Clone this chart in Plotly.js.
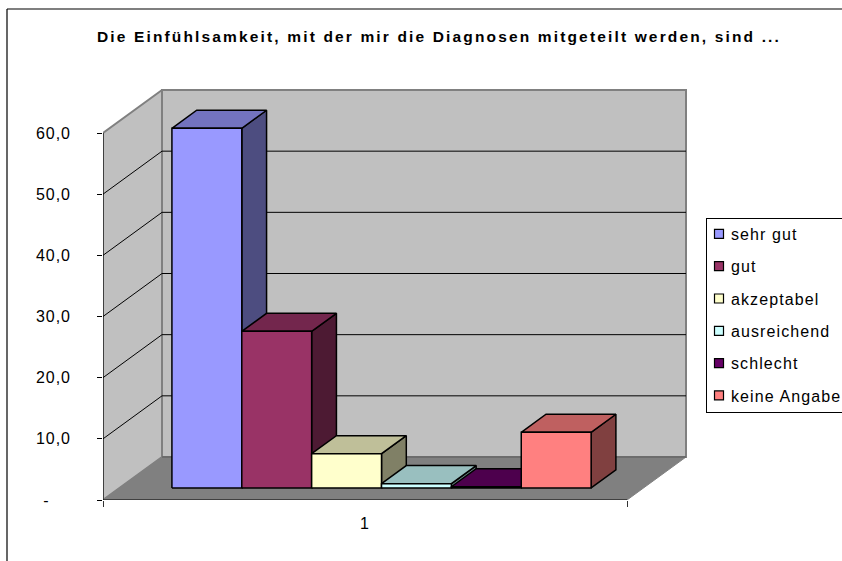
<!DOCTYPE html>
<html><head><meta charset="utf-8">
<script src="https://cdn.plot.ly/plotly-3.0.1.min.js"></script>
<style>
html,body{margin:0;padding:0;background:#fff;overflow:hidden}
.legendsymbols{transform:translate(-8px,-2px)}
.legendtext{transform:translate(-16px,-2px);letter-spacing:1.1px}
.legend rect.bg{height:194px;width:150px}
.gtitle{letter-spacing:2.15px}
.ytick text,.xtick text{letter-spacing:.9px}
</style></head><body><div id="chart" style="width:842px;height:561px"></div>
<script>
const categories = ["1"];
const seriesNames = ["sehr gut","gut","akzeptabel","ausreichend","schlecht","keine Angabe"];
const seriesValues = [58.8,25.6,5.6,0.7,0.2,9.1];
const frontColors = ["#9999FF","#993366","#FFFFCC","#CCFFFF","#660066","#FF8080"];
const topColors = ["#7373BF","#73264D","#BFBF99","#99BFBF","#4D004D","#BF6060"];
const sideColors = ["#4D4D80","#4D1A33","#808066","#668080","#330033","#804040"];
const valueTicks = [0,10,20,30,40,50,60];
const valueTickText = ["-\u00a0\u00a0\u00a0\u00a0","10,0","20,0","30,0","40,0","50,0","60,0"];
const titleText = "Die Einfühlsamkeit, mit der mir die Diagnosen mitgeteilt werden, sind ...";

// oblique projection of the 3-D chart onto the 2-D axes
const xMin=0.5, xMax=1.5, vMax=60;
const skewX=59/524, skewV=43/(367/60);
const dFront=0.28, dBack=0.70, groupGap=0.1;
const P=(x,v,d)=>[x+d*skewX, v+d*skewV];
function poly(pts,fill,line,width){
  const c=pts.map(p=>P(p[0],p[1],p[2]));
  const closed = fill? c.concat([c[0]]) : c;
  return {type:'scatter',mode:'lines',x:closed.map(p=>p[0]),y:closed.map(p=>p[1]),
    fill:fill?'toself':'none',fillcolor:fill||undefined,
    line:{color:line,width:width},showlegend:false,hoverinfo:'skip',cliponaxis:false};
}
const traces=[];
// walls and floor
traces.push(poly([[xMin,0,0],[xMin,vMax,0],[xMin,vMax,1],[xMin,0,1]],'#C0C0C0','#808080',2));
traces.push(poly([[xMin,0,1],[xMin,vMax,1],[xMax,vMax,1],[xMax,0,1]],'#C0C0C0','#808080',2));
traces.push(poly([[xMin,0,0],[xMax,0,0],[xMax,0,1],[xMin,0,1]],'#808080','#808080',1));
traces.push(poly([[xMin,0,1],[xMax,0,1]],null,'#666666',1.5));
valueTicks.slice(1,-1).forEach(v=>{
  traces.push(poly([[xMin,v,0],[xMin,v,1],[xMax,v,1]],null,'#000000',1));
});
// axes lines
traces.push(poly([[xMin,0,0],[xMin,vMax,0]],null,'#000000',1));
traces.push(poly([[xMin,0,0],[xMax,0,0]],null,'#000000',1));
// bars
const barW=(1-2*groupGap)/seriesValues.length;
seriesValues.forEach((v,i)=>{
  const a=xMin+groupGap+i*barW, b=a+barW;
  traces.push(poly([[b,0,dFront],[b,0,dBack],[b,v,dBack],[b,v,dFront]],sideColors[i],'#000',1.5));
  traces.push(poly([[a,v,dFront],[b,v,dFront],[b,v,dBack],[a,v,dBack]],topColors[i],'#000',1.5));
  traces.push(poly([[a,0,dFront],[b,0,dFront],[b,v,dFront],[a,v,dFront]],frontColors[i],'#000',1.5));
});
// legend entries
seriesNames.forEach((n,i)=>{
  traces.push({type:'scatter',mode:'markers',x:[null],y:[null],name:n,legendgroup:n,showlegend:true,
    marker:{symbol:'square',size:9,color:frontColors[i],line:{color:'#000',width:1.2}}});
});
const W=842,H=561,ml=103,mr=152,mt=85,mb=61;
const pw=W-ml-mr, ph=H-mt-mb;
const px=x=>(x-ml)/pw, py=y=>(H-mb-y)/ph;
const frame=(x0,y0,x1,y1)=>({type:'line',xref:'paper',yref:'paper',x0:px(x0),y0:py(y0),x1:px(x1),y1:py(y1),line:{color:'#000',width:1.2}});
const font={family:'"Liberation Sans",Arial,sans-serif',size:16,color:'#000'};
const layout={
  width:W,height:H,margin:{l:ml,r:mr,t:mt,b:mb,autoexpand:false},
  paper_bgcolor:'#fff',plot_bgcolor:'rgba(0,0,0,0)',font:font,
  title:{text:'<b>'+titleText+'</b>',font:{family:font.family,size:15.5,color:'#000'},x:439/W,xanchor:'center',y:1-37/H,yanchor:'middle'},
  xaxis:{range:[xMin,xMin+pw/524],showgrid:false,zeroline:false,showline:false,fixedrange:true,
    tickmode:'array',tickvals:[1],ticktext:categories,ticks:'',ticklabelstandoff:12,
    minor:{tickmode:'array',tickvals:[xMin,xMax],ticks:'outside',ticklen:6,tickcolor:'#333',tickwidth:1,showgrid:false}},
  yaxis:{range:[0,ph/(367/60)],showgrid:false,zeroline:false,showline:false,fixedrange:true,
    tickmode:'array',tickvals:valueTicks,ticktext:valueTickText,ticks:'outside',ticklen:5,tickcolor:'#000',tickwidth:1,ticklabelstandoff:23},
  legend:{x:(706-ml)/pw,xanchor:'left',y:(H-mb-218)/ph,yanchor:'top',bgcolor:'#fff',bordercolor:'#000',borderwidth:1,
    traceorder:'grouped',tracegroupgap:8.5,font:{family:font.family,size:16,color:'#000'},itemclick:false,itemdoubleclick:false},
  shapes:[frame(7,9,842,9),frame(7,9,7,561)],
  showlegend:true
};
Plotly.newPlot('chart',traces,layout,{displayModeBar:false,staticPlot:true});
</script></body></html>
